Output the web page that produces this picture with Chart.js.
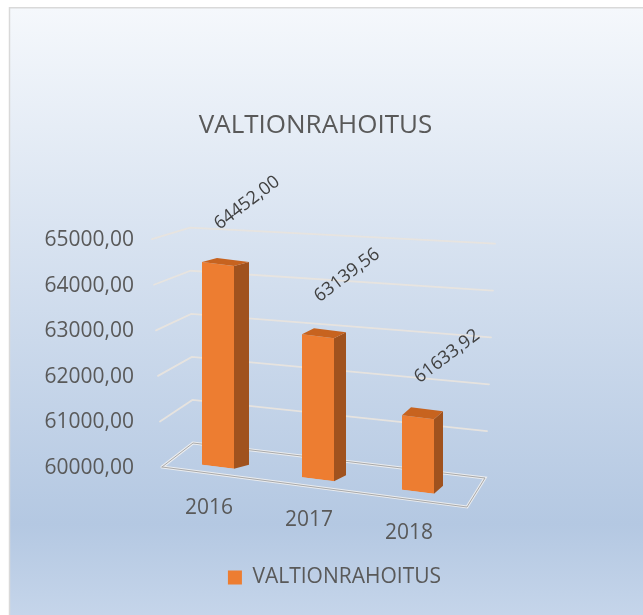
<!DOCTYPE html>
<html><head><meta charset="utf-8">
<script src="https://cdn.jsdelivr.net/npm/chart.js@4.4.1/dist/chart.umd.min.js"></script>
<style>html,body{margin:0;padding:0;background:#fff;}canvas{display:block;}</style>
</head><body>
<canvas id="c" width="643" height="615"></canvas>
<script>
const categories = ['2016', '2017', '2018'];
const seriesName = 'VALTIONRAHOITUS';
const seriesValues = [64452.00, 63139.56, 61633.92];
const yTickValues = [60000, 61000, 62000, 63000, 64000, 65000];
const chartTitle = 'VALTIONRAHOITUS';

const fmt = v => Number(v).toFixed(2).replace('.', ',');
const lerp = (a, b, t) => a + (b - a) * t;
const SKEW = 0.125;
const FONT = 'Open Sans';
let X0 = 204;
const S = (x, y) => [x, y + SKEW * (x - X0)];

function line(ctx, pts) {
  ctx.beginPath();
  ctx.moveTo(pts[0][0], pts[0][1]);
  for (let i = 1; i < pts.length; i++) ctx.lineTo(pts[i][0], pts[i][1]);
}

const threeD = {
  id: 'threeD',
  afterLayout(chart) {
    X0 = chart.chartArea.left + 36;
    if (chart.titleBlock) { chart.titleBlock.left -= 6; chart.titleBlock.right -= 6; }
    if (chart.legend) { chart.legend.left += 13; chart.legend.right += 13; }
  },
  beforeDraw(chart) {
    const {ctx, width, height} = chart;
    ctx.save();
    ctx.fillStyle = '#ffffff';
    ctx.fillRect(0, 0, width, height);
    const g = ctx.createLinearGradient(0, 8, 0, height);
    g.addColorStop(0, '#f5f8fc');
    g.addColorStop(0.85, '#b4c8e2');
    g.addColorStop(1, '#c5d5ea');
    ctx.fillStyle = g;
    ctx.fillRect(9, 8, width - 9, height - 8);
    ctx.strokeStyle = '#d9d9d9';
    ctx.lineWidth = 1.5;
    line(ctx, [[9.5, height], [9.5, 7.75], [width, 7.75]]);
    ctx.stroke();
    ctx.restore();
  },
  beforeDatasetsDraw(chart) {
    const {ctx, chartArea: a, scales} = chart;
    const y = scales.y;
    const min = y.min, max = y.max;
    ctx.save();
    ctx.lineCap = 'round';
    yTickValues.forEach(t => {
      const yf = y.getPixelForValue(t);
      const f = (t - min) / (max - min);
      const FL = [a.left + lerp(-6, -16, f), yf + 2];
      const BL = [a.left + lerp(25, 22, f), yf - lerp(22, 9.5, f)];
      const BR = [a.right + lerp(17, 27, f), yf + lerp(13, 6.5, f)];
      if (f > 0.001) {
        ctx.strokeStyle = 'rgba(232,228,222,0.95)';
        ctx.lineWidth = 1.8;
        line(ctx, [FL, BL, BR]);
        ctx.stroke();
      }
    });
    // floor
    const yb = y.getPixelForValue(min);
    const FL0 = [a.left - 6, yb + 2];
    const BL0 = [a.left + 25, yb - 22];
    const BR0 = [a.right + 17, yb + 13];
    const FR0 = [a.right - 1, yb + 42];
    ctx.strokeStyle = 'rgba(240,240,240,0.9)';
    ctx.lineWidth = 3;
    line(ctx, [FL0, FR0, BR0, BL0, FL0]);
    ctx.stroke();
    ctx.strokeStyle = '#a9a9a9';
    ctx.lineWidth = 1;
    line(ctx, [FL0, FR0, BR0, BL0, FL0]);
    ctx.stroke();
    ctx.restore();
    ctx.save();
    ctx.transform(1, SKEW, 0, 1, 0, -SKEW * X0);
  },
  afterDatasetsDraw(chart) {
    const {ctx, chartArea: a, scales} = chart;
    ctx.restore();
    const xs = scales.x;
    const meta = chart.getDatasetMeta(0);
    const p0 = xs.getPixelForValue(0), p2 = xs.getPixelForValue(categories.length - 1);
    ctx.save();
    meta.data.forEach((bar, i) => {
      const {x, y, base, width} = bar.getProps(['x', 'y', 'base', 'width'], true);
      const xl = x - width / 2, xr = x + width / 2;
      const t = Math.max(0, Math.min(1, (x - p0) / (p2 - p0)));
      const d = [lerp(15, 9, t), lerp(-4, -8, t)];
      const FTL = S(xl, y), FTR = S(xr, y), FBR = S(xr, base);
      const add = p => [p[0] + d[0], p[1] + d[1]];
      ctx.fillStyle = '#a0521e';
      line(ctx, [FTR, add(FTR), add(FBR), FBR]);
      ctx.closePath();
      ctx.fill();
      ctx.fillStyle = '#c7631f';
      line(ctx, [FTL, add(FTL), add(FTR), FTR]);
      ctx.closePath();
      ctx.fill();
      const top = S(x, y);
      ctx.save();
      ctx.translate(x + 29, top[1] - 61);
      ctx.rotate(-37 * Math.PI / 180);
      ctx.font = '18px "' + FONT + '"';
      ctx.fillStyle = '#404040';
      ctx.textAlign = 'center';
      ctx.textBaseline = 'middle';
      ctx.fillText(fmt(seriesValues[i]), 0, 0);
      ctx.restore();
      const bot = S(x, base);
      ctx.font = '21px "' + FONT + '"';
      ctx.fillStyle = '#595959';
      ctx.textAlign = 'center';
      ctx.textBaseline = 'middle';
      ctx.fillText(categories[i], x - 9, bot[1] + 41);
    });
    ctx.restore();
  }
};

Chart.defaults.font.family = FONT;
Chart.defaults.color = '#595959';

new Chart(document.getElementById('c'), {
  type: 'bar',
  data: {
    labels: categories,
    datasets: [{
      label: seriesName,
      data: seriesValues,
      base: yTickValues[0],
      backgroundColor: '#ED7D31',
      borderWidth: 0,
      categoryPercentage: 1,
      barPercentage: 0.32
    }]
  },
  options: {
    responsive: false,
    animation: false,
    devicePixelRatio: 1,
    layout: {padding: {left: 0, right: 0, top: 0, bottom: 17}},
    scales: {
      x: {
        display: true,
        grid: {display: false, drawTicks: false},
        border: {display: false},
        ticks: {display: false},
        afterFit: s => { s.height = 92; }
      },
      y: {
        min: 60000, max: 65000,
        afterBuildTicks: s => { s.ticks = yTickValues.map(v => ({value: v})); },
        grid: {display: false, drawTicks: false},
        border: {display: false},
        ticks: {
          callback: v => fmt(v),
          font: {size: 21, family: FONT},
          color: '#595959',
          padding: 34,
          labelOffset: 3
        },
        afterFit: s => { s.width = 168; }
      },
      y2: {
        position: 'right',
        min: 60000, max: 65000,
        display: true,
        grid: {display: false, drawTicks: false},
        border: {display: false},
        ticks: {display: false},
        afterFit: s => { s.width = 175; }
      }
    },
    plugins: {
      title: {
        display: true,
        text: chartTitle,
        color: '#595959',
        font: {size: 26, family: FONT, weight: 'normal'},
        padding: {top: 110, bottom: 96}
      },
      legend: {
        display: true,
        position: 'bottom',
        labels: {
          boxWidth: 14, boxHeight: 14,
          color: '#595959',
          font: {size: 21, family: FONT},
          padding: 10
        }
      },
      tooltip: {enabled: false}
    }
  },
  plugins: [threeD]
});
</script>
</body></html>
